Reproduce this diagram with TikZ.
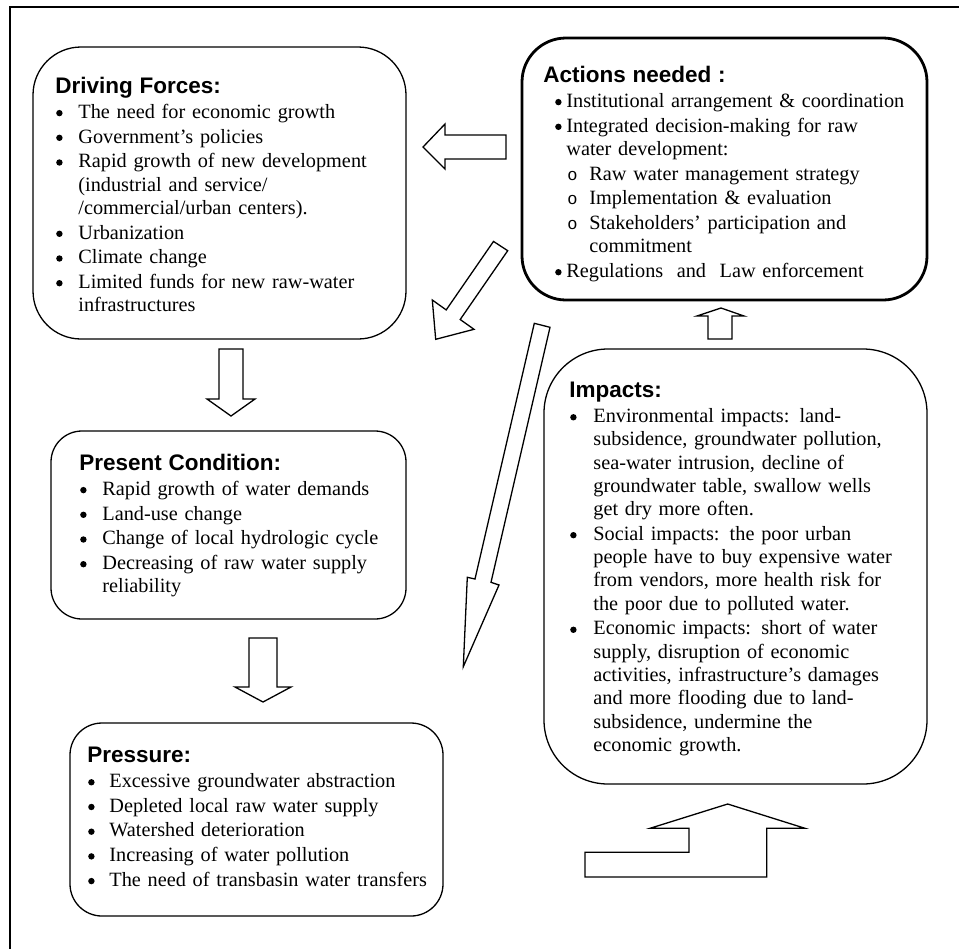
\documentclass[tikz,border=0pt]{standalone}
\usepackage{fontspec}
\setmainfont{Liberation Serif}
\newfontfamily\hfont{Liberation Sans}
\newfontfamily\monofont{Liberation Mono}
\newcommand\bul{\tikz[baseline=0pt, x=1pt, y=1pt]{\fill (0,2.6) circle[radius=1.6];}}
\newcommand\bitem[2]{\par\noindent\hangindent=#2\hangafter=1\makebox[#2][l]{\hspace{#1}\bul}\ignorespaces}
\newcommand\oitem[2]{\par\noindent\hangindent=#2\hangafter=1\makebox[#2][l]{\hspace{#1}{\monofont\fontsize{8.5}{8.5}\selectfont o}}\ignorespaces}
\newcommand\htitle[1]{\noindent{\hfont\bfseries\fontsize{11.25}{11.65}\selectfont #1}}
\tikzset{
  box/.style={draw, line width=0.65pt, rectangle, inner sep=0pt, outer sep=0pt},
  txt/.style={anchor=north west, inner sep=0pt, text width=200pt, align=left,
    font=\fontsize{10.14}{11.65}\selectfont,
    execute at begin node={\setlength{\parskip}{0.7pt}}},
  blockarrow/.style={draw, line width=0.65pt, line join=miter},
  frame/.style={draw, line width=0.8pt}
}
\begin{document}
\begin{tikzpicture}[x=0.5pt, y=-0.5pt]
\useasboundingbox (0,0) rectangle (959,949);
% outer frame (cropped)
\coordinate (fTR) at (959,7);
\coordinate (fTL) at (10,7);
\coordinate (fBL) at (10,949);
\draw[frame] (fTR) -- (fTL) -- (fBL);

% boxes
\node[box, minimum width=186.5pt, minimum height=146pt, rounded corners=24pt] (driving) at (219.5,193) {};
\node[box, line width=1.4pt, minimum width=202.5pt, minimum height=131pt, rounded corners=22pt] (actions) at (724.5,169) {};
\node[box, minimum width=177.5pt, minimum height=94pt, rounded corners=15.5pt] (present) at (228.5,525) {};
\node[box, minimum width=186.5pt, minimum height=96.5pt, rounded corners=16pt] (pressure) at (256.5,819.5) {};
\node[box, minimum width=191.5pt, minimum height=217.5pt, rounded corners=32pt] (impacts) at (735.5,566.5) {};

% texts
\node[txt] (drivingtxt) at (55,76.9) {%
\htitle{Driving Forces:}
\bitem{0.4pt}{11.5pt}The need for economic growth
\bitem{0.4pt}{11.5pt}Government’s policies
\bitem{0.4pt}{11.5pt}Rapid growth of new development\newline (industrial and service/\newline /commercial/urban centers).
\bitem{0.4pt}{11.5pt}Urbanization
\bitem{0.4pt}{11.5pt}Climate change
\bitem{0.4pt}{11.5pt}Limited funds for new raw-water\newline infrastructures\par};

\node[txt] (presenttxt) at (79,453.9) {%
\htitle{Present Condition:}
\bitem{0.4pt}{11.5pt}Rapid growth of water demands
\bitem{0.4pt}{11.5pt}Land-use change
\bitem{0.4pt}{11.5pt}Change of local hydrologic cycle
\bitem{0.4pt}{11.5pt}Decreasing of raw water supply\newline reliability\par};

\node[txt] (pressuretxt) at (87,746.9) {%
\htitle{Pressure:}
\bitem{0.4pt}{11pt}Excessive groundwater abstraction
\bitem{0.4pt}{11pt}Depleted local raw water supply
\bitem{0.4pt}{11pt}Watershed deterioration
\bitem{0.4pt}{11pt}Increasing of water pollution
\bitem{0.4pt}{11pt}The need of transbasin water transfers\par};

\node[txt] (actionstxt) at (543,65.9) {%
\htitle{Actions needed :}
\bitem{5.9pt}{11.5pt}Institutional arrangement \& coordination
\bitem{5.9pt}{11.5pt}Integrated decision-making for raw\newline water development:
\oitem{12pt}{23pt}Raw water management strategy
\oitem{12pt}{23pt}Implementation \& evaluation
\oitem{12pt}{23pt}Stakeholders’ participation and\newline commitment
\bitem{5.9pt}{11.5pt}Regulations~ and~ Law enforcement\par};

\node[txt] (impactstxt) at (569,381.9) {%
\htitle{Impacts:}
\bitem{0.4pt}{12pt}Environmental impacts: land-\newline subsidence, groundwater pollution,\newline sea-water intrusion, decline of\newline groundwater table, swallow wells\newline get dry more often.
\bitem{0.4pt}{12pt}Social impacts: the poor urban\newline people have to buy expensive water\newline from vendors, more health risk for\newline the poor due to polluted water.
\bitem{0.4pt}{12pt}Economic impacts: short of water\newline supply, disruption of economic\newline activities, infrastructure’s damages\newline and more flooding due to land-\newline subsidence, undermine the\newline economic growth.\par};

% block arrows
% actions -> driving (left)
\draw[blockarrow] (506,135) -- (445,135) -- (445,124) -- (423,147) -- (445,169) -- (445,159) -- (506,159) -- cycle;
% actions -> driving (diagonal)
\draw[blockarrow] (493.5,241.4) -- (446.2,309.9) -- (432.3,300) -- (435.7,339.3) -- (474,329.3) -- (460.2,319.5) -- (507.7,250.7) -- cycle;
% actions -> pressure (long diagonal)
\draw[blockarrow] (534.3,323.3) -- (475,579) -- (467.3,577.3) -- (463.3,666.7) -- (499,585) -- (491,582.3) -- (550,327.3) -- cycle;
% driving -> present
\draw[blockarrow] (219,349) -- (243,349) -- (243,399) -- (255,399) -- (231,416) -- (207,399) -- (219,399) -- cycle;
% present -> pressure
\draw[blockarrow] (249,638) -- (277,638) -- (277,687) -- (291,687) -- (263,702) -- (235,687) -- (249,687) -- cycle;
% impacts -> actions
\draw[blockarrow] (708,339) -- (732,339) -- (732,316) -- (744,316) -- (721,308) -- (697,316) -- (708,316) -- cycle;
% pressure -> impacts (bent)
\draw[blockarrow] (727.7,804) -- (650,828.3) -- (689,828.3) -- (689,852.3) -- (585,852.3) -- (585,877) -- (766.7,877) -- (766.7,828.3) -- (805,828.3) -- cycle;
\end{tikzpicture}
\end{document}
